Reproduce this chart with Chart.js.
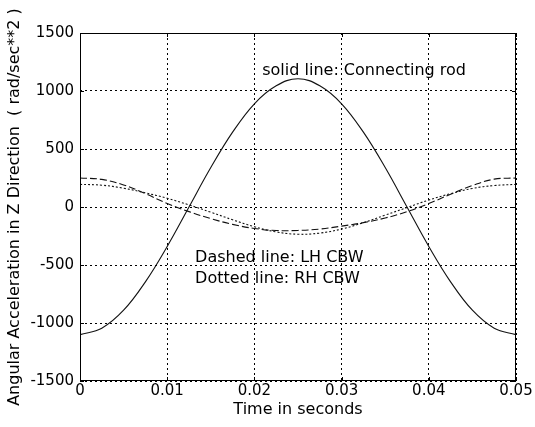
<!DOCTYPE html>
<html>
<head>
<meta charset="utf-8">
<script src="https://cdn.jsdelivr.net/npm/chart.js@4.4.3/dist/chart.umd.min.js"></script>
<style>
  html, body { margin: 0; padding: 0; background: #fff; }
  #wrap { width: 535px; height: 427px; }
</style>
</head>
<body>
<div id="wrap"><canvas id="c" width="535" height="427"></canvas></div>
<script>
// time samples (s)
const TIME = [0, 0.0025, 0.005, 0.0075, 0.01, 0.0125, 0.015, 0.0175, 0.02, 0.0225, 0.025,
  0.0275, 0.03, 0.0325, 0.035, 0.0375, 0.04, 0.0425, 0.045, 0.0475, 0.05];

// connecting rod (solid)
const ROD = [-1100, -1045, -890, -645, -340, 0, 340, 645, 890, 1045, 1105,
  1045, 890, 645, 340, 0, -340, -645, -890, -1045, -1100];

// LH CBW (dashed)
const LH_CBW = [250, 238, 190, 115, 30, -40, -100, -150, -185, -203, -202,
  -190, -165, -135, -95, -40, 30, 110, 185, 240, 250];

// RH CBW (dotted)
const RH_CBW = [195, 188, 162, 122, 75, 18, -45, -110, -170, -215, -235,
  -225, -190, -135, -70, -5, 60, 115, 160, 185, 195];

const X_TICKS = [0, 0.01, 0.02, 0.03, 0.04, 0.05];
const Y_TICKS = [-1500, -1000, -500, 0, 500, 1000, 1500];

const NOTES = [
  { text: 'solid line: Connecting rod', x: 0.0209, y: 1138 },
  { text: 'Dashed line: LH CBW', x: 0.0132, y: -474 },
  { text: 'Dotted line: RH CBW', x: 0.0132, y: -655 }
];

const FONT = 'DejaVu Sans';
const pts = arr => arr.map((v, i) => ({ x: TIME[i], y: v }));

const framePlugin = {
  id: 'frame',
  afterDatasetsDraw(chart) {
    const { ctx, chartArea: a, scales: { x, y } } = chart;
    ctx.save();
    ctx.strokeStyle = '#000';
    ctx.lineWidth = 1;
    ctx.setLineDash([]);
    ctx.strokeRect(a.left + 0.5, a.top + 0.5, a.right - a.left - 1, a.bottom - a.top - 1);
    // inward ticks like matlab
    ctx.beginPath();
    X_TICKS.forEach(t => {
      const px = Math.round(x.getPixelForValue(t)) + 0.5;
      ctx.moveTo(px, a.bottom); ctx.lineTo(px, a.bottom - 4);
      ctx.moveTo(px, a.top); ctx.lineTo(px, a.top + 4);
    });
    Y_TICKS.forEach(t => {
      const py = Math.round(y.getPixelForValue(t)) + 0.5;
      ctx.moveTo(a.left, py); ctx.lineTo(a.left + 4, py);
      ctx.moveTo(a.right, py); ctx.lineTo(a.right - 4, py);
    });
    ctx.stroke();
    // annotations
    ctx.fillStyle = '#000';
    ctx.font = '16px "' + FONT + '"';
    ctx.textBaseline = 'alphabetic';
    ctx.textAlign = 'left';
    NOTES.forEach(n => ctx.fillText(n.text, x.getPixelForValue(n.x), y.getPixelForValue(n.y)));
    ctx.restore();
  }
};

const line = (data, dash) => ({
  data: pts(data),
  borderColor: '#111',
  borderWidth: 1.1,
  borderDash: dash,
  pointRadius: 0,
  fill: false,
  tension: 0.4
});

new Chart(document.getElementById('c'), {
  type: 'line',
  data: {
    datasets: [
      line(ROD, []),
      line(LH_CBW, [7, 3]),
      line(RH_CBW, [2, 2])
    ]
  },
  options: {
    responsive: false,
    animation: false,
    devicePixelRatio: 1,
    layout: { padding: { top: 33, right: 19, left: 0, bottom: 0 } },
    plugins: { legend: { display: false }, tooltip: { enabled: false } },
    scales: {
      x: {
        type: 'linear',
        min: 0, max: 0.05,
        afterBuildTicks: s => { s.ticks = X_TICKS.map(v => ({ value: v })); },
        afterFit: s => { s.height = 46; },
        ticks: {
          color: '#000',
          padding: 1,
          maxRotation: 0,
          font: { family: FONT, size: 15 },
          callback: v => (v === 0 ? '0' : v.toFixed(2))
        },
        grid: { color: '#000', lineWidth: 1, drawTicks: false },
        border: { display: false, dash: [2, 3] },
        title: {
          display: true,
          text: 'Time in seconds',
          color: '#000',
          font: { family: FONT, size: 16 },
          padding: { top: 0, bottom: 8 }
        }
      },
      y: {
        min: -1500, max: 1500,
        afterBuildTicks: s => { s.ticks = Y_TICKS.map(v => ({ value: v })); },
        afterFit: s => { s.width = 80; },
        ticks: {
          color: '#000',
          padding: 6,
          font: { family: FONT, size: 15 },
          callback: v => String(v)
        },
        grid: { color: '#000', lineWidth: 1, drawTicks: false },
        border: { display: false, dash: [2, 3] },
        title: {
          display: true,
          text: 'Angular Acceleration in Z Direction  ( rad/sec**2 )',
          color: '#000',
          font: { family: FONT, size: 16 },
          padding: { top: 5, bottom: 0 }
        }
      }
    }
  },
  plugins: [framePlugin]
});
</script>
</body>
</html>
